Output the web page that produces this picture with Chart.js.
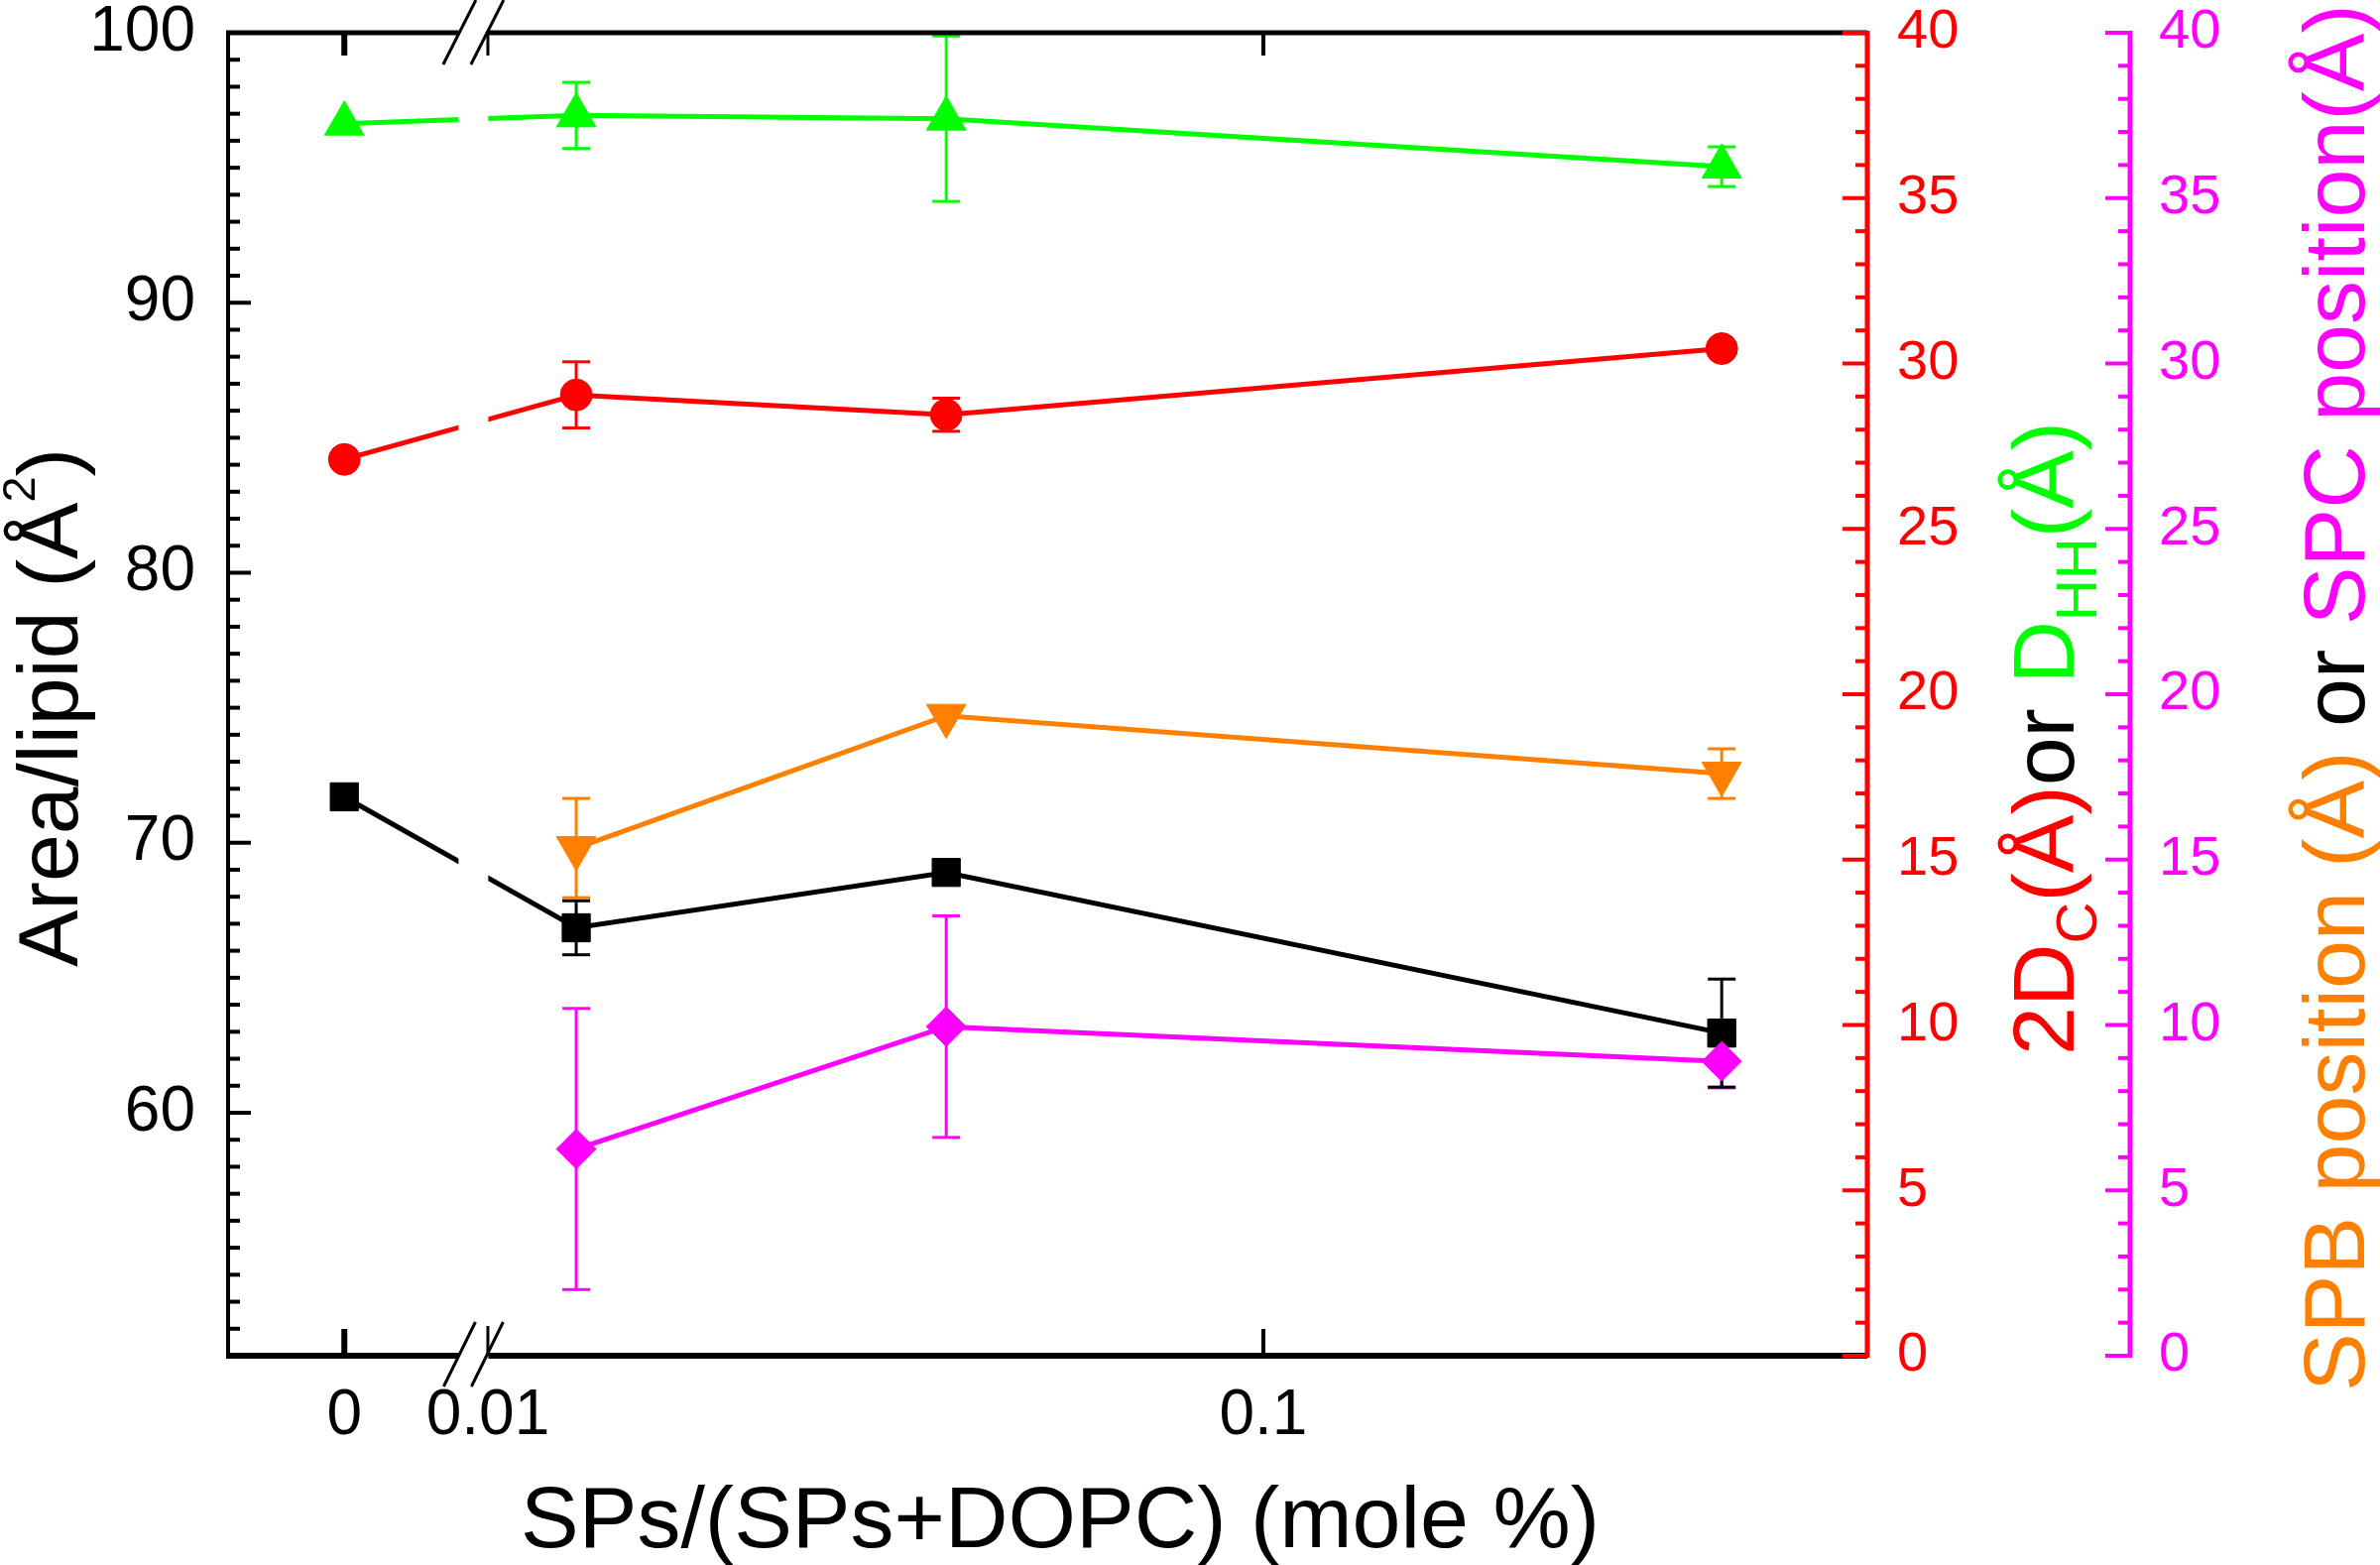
<!DOCTYPE html>
<html>
<head>
<meta charset="utf-8">
<script src="https://cdn.jsdelivr.net/npm/chart.js@4.4.1/dist/chart.umd.min.js"></script>
<style>
  html, body { margin: 0; padding: 0; background: #fff; }
</style>
</head>
<body>
<canvas id="plot" width="2400" height="1578"></canvas>
<script>
// SPs/(SPs+DOPC) values; 0 sits left of the axis break
const concentrations = [0, 0.013, 0.039, 0.39];
const xTickValues = [0, 0.01, 0.1];
const xTickLabels = ['0', '0.01', '0.1'];
const ZERO_AT = 0.00653;   // spot on the log axis used for "0"
const BREAK_AT = 0.00958;  // centre of the axis break

const areaPerLipid = [71.7, 66.85, 68.9, 62.95];
const areaErr      = [0, 1.0, 0, 2.0];
const twoDc        = [27.1, 29.05, 28.45, 30.45];
const twoDcErr     = [0, 1.0, 0.5, 0];
const dHH          = [37.25, 37.5, 37.4, 35.95];
const dHHErr       = [0, 1.0, 2.5, 0.6];
const spbPos       = [null, 15.35, 19.35, 17.6];
const spbErr       = [0, 1.5, 0, 0.75];
const spcPos       = [null, 6.25, 9.95, 8.9];
const spcErr       = [0, 4.25, 3.35, 0.8];

const leftTicks = [60, 70, 80, 90, 100];

const FONT = "'Liberation Sans', Arial, sans-serif";
const RED = '#ff0000', GREEN = '#00ff00', ORANGE = '#ff8000', MAGENTA = '#ff00ff';

function pts(vals, errs) {
    return concentrations
        .map((c, i) => ({ x: c === 0 ? ZERO_AT : c, y: vals[i], err: errs[i] }))
        .filter(p => p.y !== null);
}

function series(label, vals, errs, color, axis, style, radius, rot) {
    return {
        label: label,
        data: pts(vals, errs),
        yAxisID: axis,
        borderColor: color,
        backgroundColor: color,
        borderWidth: 5,
        pointStyle: style,
        pointRadius: radius,
        pointRotation: rot || 0,
        pointBorderWidth: 1,
        tension: 0,
        showLine: true
    };
}

function seg(ctx, x1, y1, x2, y2, color, w) {
    ctx.beginPath();
    ctx.moveTo(x1, y1);
    ctx.lineTo(x2, y2);
    ctx.strokeStyle = color;
    ctx.lineWidth = w;
    ctx.stroke();
}

// rotated (bottom-to-top) title made of coloured pieces
function vText(ctx, baseX, startY, pieces, size) {
    ctx.save();
    ctx.translate(baseX, startY);
    ctx.rotate(-Math.PI / 2);
    ctx.textAlign = 'left';
    ctx.textBaseline = 'alphabetic';
    let pos = 0;
    pieces.forEach(p => {
        let fs = size, dy = 0;
        if (p.sub) { fs = Math.round(size * 0.66); dy = size * 0.26; }
        if (p.sup) { fs = Math.round(size * 0.55); dy = -size * 0.5; }
        ctx.font = fs + 'px ' + FONT;
        ctx.fillStyle = p.color || '#000';
        ctx.fillText(p.text, pos, dy);
        pos += ctx.measureText(p.text).width;
    });
    ctx.restore();
}

// fixed axis box sizes; no extra label padding above/below the plot
function fixWidth(w) {
    return s => { s.width = w; s.paddingTop = 0; s.paddingBottom = 0; };
}

const frame = {
    id: 'frame',
    beforeDatasetsDraw(chart) {
        const ctx = chart.ctx;
        const xs = chart.scales.x;
        ctx.save();
        chart.data.datasets.forEach(ds => {
            const ys = chart.scales[ds.yAxisID];
            ds.data.forEach(p => {
                if (!p.err) return;
                const px = xs.getPixelForValue(p.x);
                const y1 = ys.getPixelForValue(p.y - p.err);
                const y2 = ys.getPixelForValue(p.y + p.err);
                seg(ctx, px, y1, px, y2, ds.borderColor, 3);
                seg(ctx, px - 14, y1, px + 14, y1, ds.borderColor, 3);
                seg(ctx, px - 14, y2, px + 14, y2, ds.borderColor, 3);
            });
        });
        ctx.restore();
    },
    afterDatasetsDraw(chart) {
        const ctx = chart.ctx;
        const { left, right, top, bottom } = chart.chartArea;
        const xs = chart.scales.x, yl = chart.scales.y, yr = chart.scales.y2, ym = chart.scales.y3;
        ctx.save();
        ctx.lineCap = 'butt';

        // box
        seg(ctx, left, top - 2, left, bottom + 3, '#000', 4);
        seg(ctx, left - 2, top, right, top, '#000', 5);
        seg(ctx, left - 2, bottom, right, bottom, '#000', 6);

        // left axis ticks (inward)
        for (let v = Math.ceil(yl.min); v <= yl.max; v++) {
            const py = yl.getPixelForValue(v);
            seg(ctx, left, py, left + (v % 10 === 0 ? 23 : 12), py, '#000', 4);
        }
        // x ticks at 0 and 0.1, top and bottom
        [ZERO_AT, 0.1].forEach((v, i) => {
            const px = xs.getPixelForValue(v);
            const w = i === 0 ? 6 : 4;
            seg(ctx, px, bottom, px, bottom - 27, '#000', w);
            seg(ctx, px, top, px, top + 23, '#000', w);
        });

        // red and magenta axes
        [[yr, right, RED], [ym, ym.left, MAGENTA]].forEach(([sc, ax, col]) => {
            seg(ctx, ax, top - 2, ax, bottom + 2, col, 5);
            for (let v = sc.min; v <= sc.max; v++) {
                const py = sc.getPixelForValue(v);
                seg(ctx, ax - (v % 5 === 0 ? 25 : 12), py, ax, py, col, 4);
            }
        });

        // axis break
        const bx = xs.getPixelForValue(BREAK_AT);
        ctx.fillStyle = '#fff';
        ctx.fillRect(bx - 15, top - 8, 30, bottom - top + 16);
        const p01 = xs.getPixelForValue(0.01);
        seg(ctx, p01, top, p01, top + 23, '#000', 3);
        seg(ctx, p01, bottom, p01, bottom - 30, '#000', 3);
        [-30.5, -2.5].forEach(o => {
            seg(ctx, bx + o, top + 32, bx + o + 33, top - 33, '#000', 3);
            seg(ctx, bx + o + 0.5, bottom + 31, bx + o + 32.5, bottom - 34, '#000', 3);
        });

        // titles
        ctx.font = '88px ' + FONT;
        ctx.fillStyle = '#000';
        ctx.textAlign = 'center';
        ctx.textBaseline = 'alphabetic';
        ctx.fillText('SPs/(SPs+DOPC) (mole %)', 1069, 1560);

        vText(ctx, 78, 975, [
            { text: 'Area/lipid (Å' }, { text: '2', sup: true }, { text: ')' }
        ], 86);
        vText(ctx, 2091, 1064, [
            { text: '2D', color: RED }, { text: 'C', color: RED, sub: true },
            { text: '(Å)', color: RED }, { text: 'or ', color: '#000' },
            { text: 'D', color: GREEN }, { text: 'HH', color: GREEN, sub: true },
            { text: '(Å)', color: GREEN }
        ], 88);
        vText(ctx, 2384, 1403, [
            { text: 'SPB position (Å)', color: ORANGE },
            { text: ' or ', color: '#000' },
            { text: 'SPC position(Å)', color: MAGENTA }
        ], 88);
        ctx.restore();
    }
};

const ctx = document.getElementById('plot');

new Chart(ctx, {
    type: 'line',
    data: {
        datasets: [
            series('SPC position', spcPos, spcErr, MAGENTA, 'y3', 'rectRot', 20),
            series('SPB position', spbPos, spbErr, ORANGE, 'y3', 'triangle', 23, 180),
            series('DHH', dHH, dHHErr, GREEN, 'y2', 'triangle', 23),
            series('2Dc', twoDc, twoDcErr, RED, 'y2', 'circle', 16),
            series('Area/lipid', areaPerLipid, areaErr, '#000', 'y', 'rect', 20)
        ]
    },
    options: {
        responsive: false,
        devicePixelRatio: 1,
        animation: false,
        layout: { padding: { top: 33, left: 0, right: 0, bottom: 0 } },
        plugins: { legend: { display: false }, tooltip: { enabled: false } },
        scales: {
            x: {
                type: 'logarithmic',
                position: 'bottom',
                bounds: 'data',
                min: 0.004624,
                max: 0.6009,
                grid: { display: false, drawTicks: false },
                border: { display: false },
                afterBuildTicks: s => { s.ticks = xTickValues.map(v => ({ value: v === 0 ? ZERO_AT : v })); },
                afterFit: s => { s.height = 211; },
                ticks: {
                    autoSkip: false, maxRotation: 0, padding: 23, color: '#000',
                    font: { size: 64, family: FONT, lineHeight: 1.2 },
                    callback: (v, i) => xTickLabels[i]
                }
            },
            y: {
                position: 'left',
                min: 51,
                max: 100,
                grid: { display: false, drawTicks: false },
                border: { display: false },
                afterBuildTicks: s => { s.ticks = leftTicks.map(v => ({ value: v })); },
                afterFit: fixWidth(230),
                ticks: { padding: 33, color: '#000', font: { size: 64, family: FONT, lineHeight: 1 } }
            },
            y2: {
                position: 'right',
                min: 0,
                max: 40,
                grid: { display: false, drawTicks: false },
                border: { display: false },
                afterFit: fixWidth(265),
                ticks: { stepSize: 5, padding: 30, color: RED, font: { size: 56, family: FONT, lineHeight: 1 } }
            },
            y3: {
                position: 'right',
                min: 0,
                max: 40,
                grid: { display: false, drawTicks: false },
                border: { display: false },
                afterFit: fixWidth(252),
                ticks: { stepSize: 5, padding: 29, color: MAGENTA, font: { size: 56, family: FONT, lineHeight: 1 } }
            }
        }
    },
    plugins: [frame]
});
</script>
</body>
</html>
